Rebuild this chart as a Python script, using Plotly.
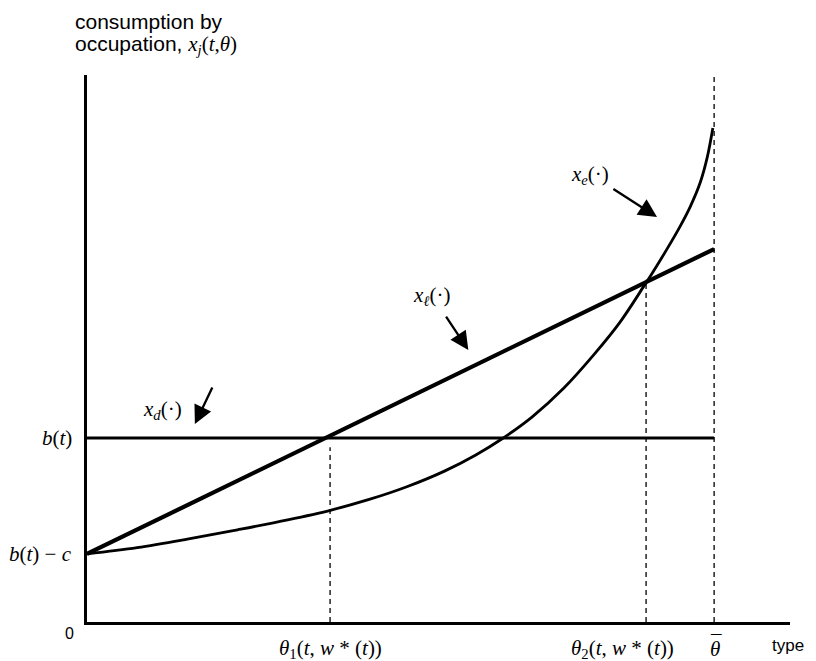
import plotly.graph_objects as go

# ---- data ----
theta_line = [0.0, 1.0]
x_d_vals = [1.0, 1.0]            # b(t)
x_l_vals = [0.37, 2.027]         # straight line from b(t)-c

theta_e = [0.0, 0.08, 0.16, 0.24, 0.32, 0.388, 0.45, 0.51, 0.57, 0.62, 0.662,
           0.71, 0.76, 0.81, 0.85, 0.887, 0.903, 0.925, 0.946, 0.962, 0.978,
           0.989, 0.998]
x_e_vals = [0.370, 0.404, 0.450, 0.501, 0.555, 0.607, 0.666, 0.735, 0.820, 0.908,
            0.996, 1.115, 1.270, 1.460, 1.630, 1.820, 1.905, 2.028, 2.152, 2.258,
            2.390, 2.525, 2.685]

b_t = 1.0
b_t_minus_c = 0.37
theta_marks = [0.3876, 0.8915, 1.0]
theta_mark_tops = [0.95, 1.86, 2.973]
theta_mark_labels = ["<i>θ</i><sub>1</sub>(<i>t</i>, <i>w</i> * (<i>t</i>))",
                     "<i>θ</i><sub>2</sub>(<i>t</i>, <i>w</i> * (<i>t</i>))",
                     "<i>θ</i>"]
y_tick_vals = [b_t, b_t_minus_c]
y_tick_labels = ["<i>b</i>(<i>t</i>)", "<i>b</i>(<i>t</i>) − <i>c</i>"]

X_MAX = 1.121
Y_MAX = 2.973

SERIF = "Liberation Serif"
SANS = "Liberation Sans"
MATH_SIZE = 21

fig = go.Figure()

# dashed verticals
for tx, top in zip(theta_marks, theta_mark_tops):
    fig.add_trace(go.Scatter(x=[tx, tx], y=[0, top], mode="lines",
                             line=dict(color="black", width=1.3, dash="5px,4px"),
                             hoverinfo="skip", showlegend=False))

fig.add_trace(go.Scatter(x=theta_line, y=x_d_vals, mode="lines",
                         line=dict(color="black", width=2.8), showlegend=False))
fig.add_trace(go.Scatter(x=theta_e, y=x_e_vals, mode="lines",
                         line=dict(color="black", width=2.8, shape="spline", smoothing=1.0),
                         showlegend=False))
fig.add_trace(go.Scatter(x=theta_line, y=x_l_vals, mode="lines",
                         line=dict(color="black", width=4.2), showlegend=False))

ann = []
# y labels
for v, t in zip(y_tick_vals, y_tick_labels):
    ann.append(dict(x=0, y=v, xref="x", yref="y", text=t, showarrow=False,
                    xanchor="right", yanchor="middle", xshift=-13,
                    font=dict(family=SERIF, size=MATH_SIZE, color="black")))
ann.append(dict(x=0, y=0, xref="x", yref="y", text="0", showarrow=False,
                xanchor="right", yanchor="middle", xshift=-11, yshift=-11,
                font=dict(family=SANS, size=16, color="black")))
# x labels
x_shifts = [0, -24, 1]
for tx, t, sh in zip(theta_marks, theta_mark_labels, x_shifts):
    ann.append(dict(x=tx, y=0, xref="x", yref="y", text=t, showarrow=False,
                    xanchor="center", yanchor="middle", xshift=sh, yshift=-27,
                    font=dict(family=SERIF, size=MATH_SIZE, color="black")))
# bar over theta-bar
ann.append(dict(x=theta_marks[2], y=0, xref="x", yref="y", text="¯", showarrow=False,
                xanchor="center", yanchor="middle", xshift=2, yshift=-21,
                font=dict(family=SERIF, size=MATH_SIZE, color="black")))
ann.append(dict(x=1.118, y=0, xref="x", yref="y", text="type", showarrow=False,
                xanchor="center", yanchor="middle", yshift=-23,
                font=dict(family=SANS, size=17, color="black")))
# axis title (two lines)
ann.append(dict(x=-0.0199, y=1.0987, xref="paper", yref="paper",
                text="consumption by", showarrow=False, xanchor="left", yanchor="middle",
                font=dict(family=SANS, size=21, color="black")))
ann.append(dict(x=-0.0199, y=1.0548, xref="paper", yref="paper",
                text="occupation, <span style='font-family:Liberation Serif'>"
                     "<i>x</i><sub><i>j</i></sub>(<i>t</i>,<i>θ</i>)</span>",
                showarrow=False, xanchor="left", yanchor="middle",
                font=dict(family=SANS, size=21, color="black")))
# curve labels
curve_labels = ["<i>x</i><sub><i>d</i></sub>(·)", "<i>x</i><sub><i>ℓ</i></sub>(·)",
                "<i>x</i><sub><i>e</i></sub>(·)"]
label_pos = [(0.120, 1.152), (0.550, 1.772), (0.802, 2.429)]
arrow_tail = [(0.201, 1.283), (0.571, 1.668), (0.837, 2.359)]
arrow_tip = [(0.172, 1.076), (0.608, 1.478), (0.909, 2.201)]
for t, (lx, ly), (ax_, ay_), (tx_, ty_) in zip(curve_labels, label_pos, arrow_tail, arrow_tip):
    ann.append(dict(x=lx, y=ly, xref="x", yref="y", text=t, showarrow=False,
                    xanchor="center", yanchor="middle",
                    font=dict(family=SERIF, size=MATH_SIZE, color="black")))
    ann.append(dict(x=tx_, y=ty_, ax=ax_, ay=ay_, xref="x", yref="y", axref="x", ayref="y",
                    text="", showarrow=True, arrowhead=2, arrowsize=1.6, arrowwidth=2.3,
                    arrowcolor="black"))

fig.update_layout(
    width=816, height=661,
    margin=dict(l=87, r=26, t=75, b=39),
    paper_bgcolor="white", plot_bgcolor="white",
    showlegend=False,
    annotations=ann,
    xaxis=dict(range=[0, X_MAX], showgrid=False, zeroline=False, showticklabels=False,
               ticks="", showline=True, linecolor="black", linewidth=2.5, fixedrange=True),
    yaxis=dict(range=[0, Y_MAX], showgrid=False, zeroline=False, showticklabels=False,
               ticks="", showline=True, linecolor="black", linewidth=2.5, fixedrange=True),
)

fig.write_html("out.html")
